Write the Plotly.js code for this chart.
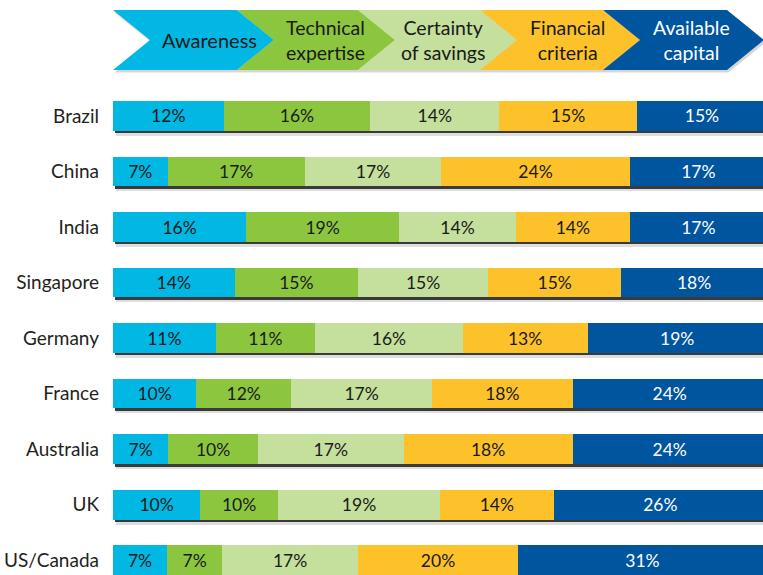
<!DOCTYPE html>
<html>
<head>
<meta charset="utf-8">
<script src="https://cdn.plot.ly/plotly-3.0.1.min.js"></script>
<style>
  html, body { margin: 0; padding: 0; background: #ffffff; }
  #chart { width: 763px; height: 575px; }
</style>
</head>
<body>
<div id="chart"></div>
<script>
// ---------------- DATA ----------------
const categories = ['Brazil', 'China', 'India', 'Singapore', 'Germany', 'France', 'Australia', 'UK', 'US/Canada'];
const stageNames = ['Awareness', 'Technical<br>expertise', 'Certainty<br>of savings', 'Financial<br>criteria', 'Available<br>capital'];

// percentages printed on the segments
const awarenessPct = [12, 7, 16, 14, 11, 10, 7, 10, 7];
const technicalPct = [16, 17, 19, 15, 11, 12, 10, 10, 7];
const certaintyPct = [14, 17, 14, 15, 16, 17, 17, 19, 17];
const financialPct = [15, 24, 14, 15, 13, 18, 18, 14, 20];
const capitalPct   = [15, 17, 17, 18, 19, 24, 24, 26, 31];

// segment lengths as drawn in the picture (share of visible bar width)
const awarenessLen = [17.0, 8.4, 20.5, 18.7, 15.8, 12.8, 8.5, 13.4, 8.3];
const technicalLen = [22.6, 21.1, 23.5, 19.0, 15.3, 14.6, 13.8, 12.0, 8.5];
const certaintyLen = [19.8, 21.0, 18.0, 20.0, 22.7, 21.7, 22.4, 24.9, 20.9];
const financialLen = [21.2, 29.0, 17.5, 20.5, 19.2, 21.6, 26.0, 17.5, 24.6];
const capitalLen   = [20.0, 21.1, 21.1, 22.4, 27.6, 29.9, 29.9, 32.8, 38.3];

// ---------------- STYLE ----------------
const colors = ['#00b8e3', '#8cc63f', '#c5df9d', '#fdc22a', '#00559f'];
const textColors = ['#1a1a1a', '#1a1a1a', '#1a1a1a', '#1a1a1a', '#ffffff'];
const FONT = 'Lato, "Noto Sans", "DejaVu Sans", sans-serif';

const W = 763, H = 575;
const X = px => px / W;
const Y = py => 1 - py / H;

const lens = [awarenessLen, technicalLen, certaintyLen, financialLen, capitalLen];
const pcts = [awarenessPct, technicalPct, certaintyPct, financialPct, capitalPct];
const totals = categories.map((c, i) => lens.reduce((s, a) => s + a[i], 0));

const BW = 0.54;
const traces = [];

// soft shadow
traces.push({
  type: 'bar', orientation: 'h', y: categories, x: totals.map(t => t - 0.4), base: 0.4,
  width: BW, yaxis: 'y', xaxis: 'x',
  marker: { color: 'rgba(0,0,0,0.13)' }, hoverinfo: 'skip', showlegend: false
});
// dark shadow
traces.push({
  type: 'bar', orientation: 'h', y: categories, x: totals.map(t => t - 0.3), base: 0.3,
  width: BW, yaxis: 'y2', xaxis: 'x',
  marker: { color: 'rgba(40,40,40,0.9)' }, hoverinfo: 'skip', showlegend: false
});
// main stacked segments
lens.forEach((arr, k) => {
  traces.push({
    type: 'bar', orientation: 'h', y: categories, x: arr,
    width: BW, yaxis: 'y3', xaxis: 'x',
    name: stageNames[k].replace('<br>', ' '),
    marker: { color: colors[k], line: { width: 0 } },
    text: pcts[k].map(v => v + '%'),
    textposition: 'inside', insidetextanchor: 'middle', textangle: 0,
    constraintext: 'none',
    textfont: { family: FONT, size: 17.5, color: textColors[k] },
    hoverinfo: 'skip', showlegend: false
  });
});

// ---------------- HEADER CHEVRONS ----------------
const chevLeft = [113, 237, 358, 480, 603];
const chevWidth = [124, 121, 122, 123, 124];
const D = 37, TOP = 10, BOT = 70, MID = 40;
const shapes = [];
function chevPath(L, w, dx, dy) {
  const R = L + w;
  const pts = [[L, TOP], [R, TOP], [R + D, MID], [R, BOT], [L, BOT], [L + D, MID]];
  return 'M ' + pts.map(p => X(p[0] + dx) + ',' + Y(p[1] + dy)).join(' L ') + ' Z';
}
chevLeft.forEach((L, k) => {
  shapes.push({ type: 'path', xref: 'paper', yref: 'paper', path: chevPath(L, chevWidth[k], 1.5, 2.5),
    fillcolor: 'rgba(0,0,0,0.16)', line: { width: 0 }, layer: 'above' });
});
chevLeft.forEach((L, k) => {
  shapes.push({ type: 'path', xref: 'paper', yref: 'paper', path: chevPath(L, chevWidth[k], 0, 0),
    fillcolor: colors[k], line: { width: 0 }, layer: 'above' });
});

const labelCenters = [209, 325, 443, 567, 691];
const annotations = stageNames.map((s, k) => ({
  xref: 'paper', yref: 'paper', x: X(labelCenters[k]), y: Y(MID + 0.5),
  xanchor: 'center', yanchor: 'middle', align: 'center', showarrow: false, text: s,
  font: { family: FONT, size: s.indexOf('<br>') >= 0 ? 19.5 : 20, color: textColors[k] }
}));

// ---------------- AXES ----------------
const yDomain = [0, 495 / 575];
const r0 = 8.270, r1 = -0.6486;
const pxPerCat = 55.5;
function yAxis(shiftPx, extra) {
  const s = shiftPx / pxPerCat;
  return Object.assign({
    type: 'category', categoryorder: 'array', categoryarray: categories,
    domain: yDomain, range: [r0 - s, r1 - s], fixedrange: true,
    showgrid: false, zeroline: false, showline: false, ticks: '', showticklabels: false
  }, extra || {});
}

const layout = {
  width: W, height: H,
  margin: { l: 0, r: 0, t: 0, b: 0, pad: 0 },
  paper_bgcolor: '#ffffff', plot_bgcolor: '#ffffff',
  barmode: 'stack', bargap: 0,
  showlegend: false, hovermode: false,
  xaxis: { domain: [113 / W, 1], range: [0, 100], visible: false, fixedrange: true },
  yaxis: yAxis(5),
  yaxis2: yAxis(2.5, { overlaying: 'y' }),
  yaxis3: yAxis(0, { overlaying: 'y', showticklabels: true, ticklabelstandoff: 13,
    tickfont: { family: FONT, size: 19, color: '#231f20' } }),
  shapes: shapes,
  annotations: annotations
};

Plotly.newPlot('chart', traces, layout, { displayModeBar: false, staticPlot: true });
</script>
</body>
</html>
